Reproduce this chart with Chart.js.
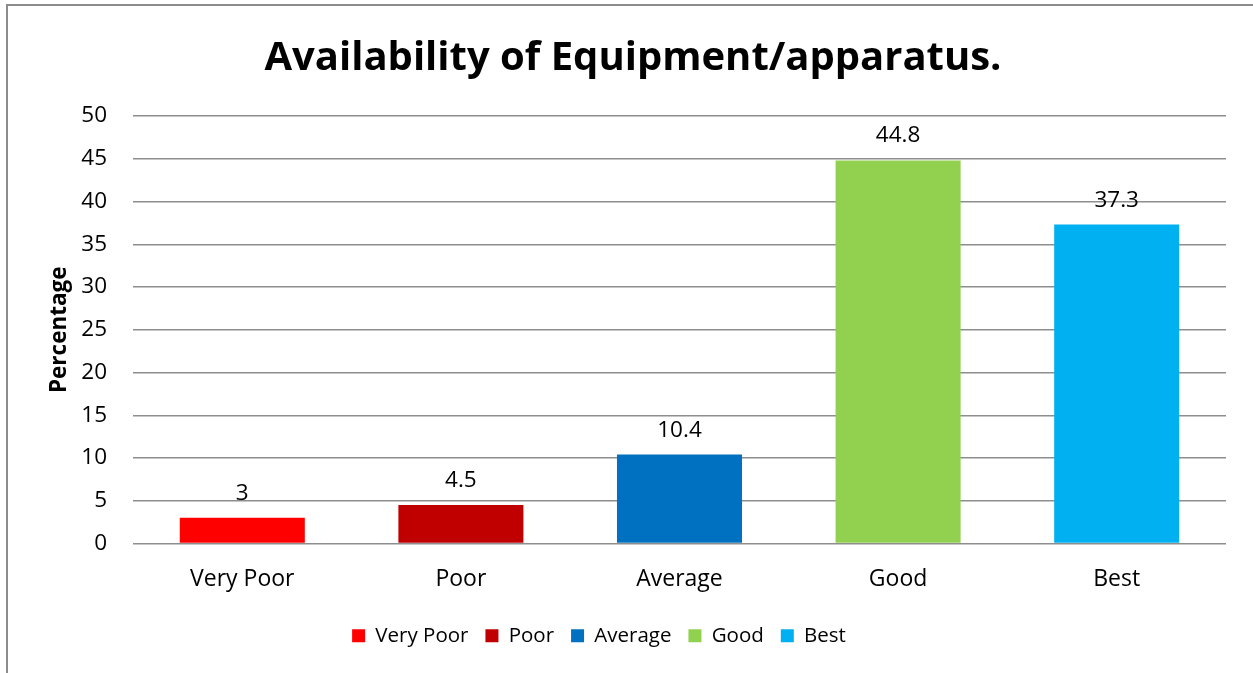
<!DOCTYPE html>
<html><head><meta charset="utf-8">
<script src="https://cdn.jsdelivr.net/npm/chart.js@4"></script>
<style>html,body{margin:0;padding:0;background:#fff;overflow:hidden}canvas{display:block}</style>
</head><body>
<canvas id="c" width="1253" height="673"></canvas>
<script>
const categories = ['Very Poor', 'Poor', 'Average', 'Good', 'Best'];
const values = [3, 4.5, 10.4, 44.8, 37.3];
const barColors = ['#FF0000', '#C00000', '#0070C0', '#92D050', '#00B0F0'];
const chartTitle = 'Availability of Equipment/apparatus.';
const yAxisTitle = 'Percentage';
const yMin = 0, yMax = 50, yStep = 5;

const FONT = "'Open Sans', 'Liberation Sans', sans-serif";

const framePlugin = {
  id: 'frame',
  beforeDraw(chart) {
    const ctx = chart.ctx;
    ctx.save();
    ctx.fillStyle = '#fff';
    ctx.fillRect(0, 0, chart.width, chart.height);
    ctx.strokeStyle = '#8c8c8c';
    ctx.lineWidth = 2;
    ctx.strokeRect(7, 5, 1300, 700);
    ctx.restore();
  }
};

// the reference legend sits a little left of the chart centre
const legendShift = {
  id: 'legendShift',
  afterLayout(chart) {
    if (chart.legend) {
      chart.legend.left -= 34;
      chart.legend.right -= 34;
    }
  }
};

const valueLabels = {
  id: 'valueLabels',
  afterDatasetsDraw(chart) {
    const ctx = chart.ctx;
    const meta = chart.getDatasetMeta(0);
    ctx.save();
    ctx.font = '22.5px ' + FONT;
    ctx.fillStyle = '#000';
    ctx.textAlign = 'center';
    ctx.textBaseline = 'alphabetic';
    meta.data.forEach((bar, i) => {
      ctx.fillText(String(values[i]), bar.x, bar.y - 18);
    });
    ctx.restore();
  }
};

new Chart(document.getElementById('c'), {
  type: 'bar',
  data: {
    labels: categories,
    datasets: [{
      label: yAxisTitle,
      data: values,
      backgroundColor: barColors,
      borderWidth: 0,
      barPercentage: 0.572,
      categoryPercentage: 1.0
    }]
  },
  options: {
    responsive: false,
    animation: false,
    layout: { padding: { top: 35, left: 40, right: 27, bottom: 17 } },
    plugins: {
      title: {
        display: true,
        text: chartTitle,
        color: '#000',
        font: { family: FONT, size: 40, weight: 'bold' },
        padding: { top: 0, bottom: 33 }
      },
      legend: {
        display: true,
        position: 'bottom',
        labels: {
          color: '#000',
          font: { family: FONT, size: 20.5 },
          boxWidth: 13,
          boxHeight: 13,
          padding: 17,
          generateLabels() {
            return categories.map((c, i) => ({
              text: c,
              fillStyle: barColors[i],
              strokeStyle: barColors[i],
              lineWidth: 0,
              hidden: false,
              index: i
            }));
          }
        },
        onClick() {}
      },
      tooltip: { enabled: false }
    },
    scales: {
      x: {
        grid: { display: false, drawTicks: false },
        border: { display: false },
        ticks: { color: '#000', font: { family: FONT, size: 23 }, padding: 22 },
        afterFit(s) { s.height = 65; }
      },
      y: {
        min: yMin,
        max: yMax,
        grid: { color: '#8e8e8e', lineWidth: 1.5, drawTicks: false },
        border: { display: false },
        ticks: { stepSize: yStep, color: '#000', font: { family: FONT, size: 22.5 }, padding: 26 },
        title: {
          display: true,
          text: yAxisTitle,
          color: '#000',
          font: { family: FONT, size: 22.5, weight: 'bold' },
          padding: { top: 6, bottom: 0 }
        },
        afterFit(s) { s.width = 93; }
      }
    }
  },
  plugins: [framePlugin, legendShift, valueLabels]
});
</script>
</body></html>
